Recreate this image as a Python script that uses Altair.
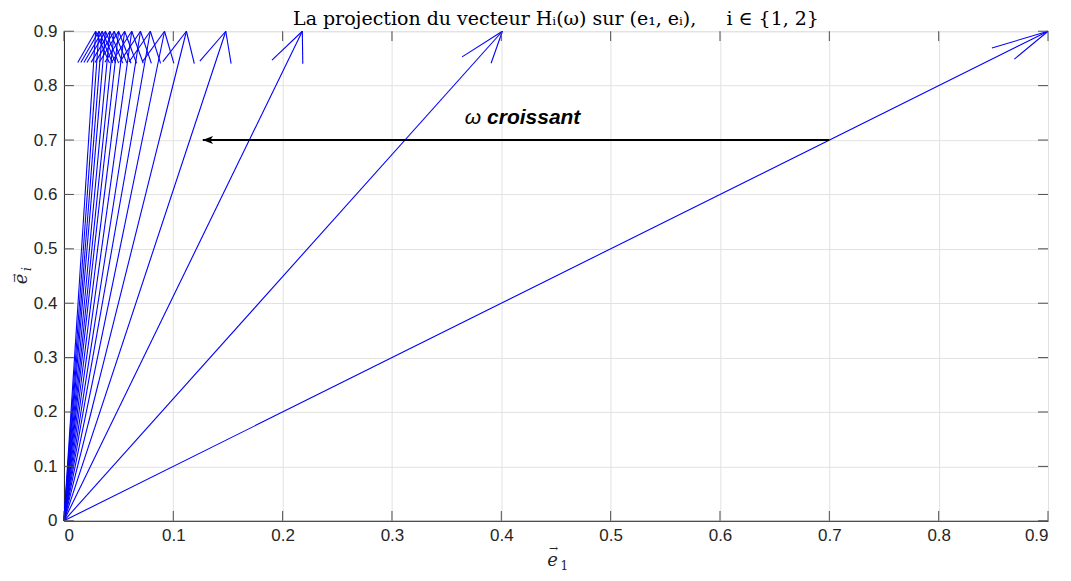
import altair as alt
import pandas as pd
import numpy as np

# --- data ---
tips_x = [0.9, 0.401, 0.218, 0.148, 0.112, 0.092, 0.079, 0.070, 0.062,
          0.0555, 0.050, 0.046, 0.042, 0.038, 0.035, 0.032, 0.029]
tip_y = 0.9
head_len = 0.058
head_half = 0.0145
tick_values = [0, 0.1, 0.2, 0.3, 0.4, 0.5, 0.6, 0.7, 0.8, 0.9]
arrow_start_x = 0.7
arrow_end_x = 0.127
arrow_y = 0.7
label_omega_x = 0.374
label_text_x = 0.387
label_y = 0.741
title_text = "La projection du vecteur Hᵢ(ω) sur (e₁, eᵢ),\u00a0\u00a0\u00a0\u00a0 i ∈ {1, 2}"

# --- build quiver segments (shaft + two barbs) ---
rows = []
for i, tx in enumerate(tips_x):
    rows.append(dict(k=i, x=0.0, y=0.0, x2=tx, y2=tip_y))
    n = np.hypot(tx, tip_y)
    ux, uy = tx / n, tip_y / n
    bx, by = tx - head_len * ux, tip_y - head_len * uy
    px, py = -uy, ux
    rows.append(dict(k=i, x=tx, y=tip_y, x2=bx + head_half * px, y2=by + head_half * py))
    rows.append(dict(k=i, x=tx, y=tip_y, x2=bx - head_half * px, y2=by - head_half * py))
seg = pd.DataFrame(rows)

W, H = 985, 490
xs = alt.Scale(domain=[0, 0.9], nice=False, zero=False)
ys = alt.Scale(domain=[0, 0.9], nice=False, zero=False)

AX = dict(values=tick_values, format="~g", labelFont="Liberation Sans", labelFontSize=17,
          labelColor="#262626", ticks=False, domainColor="#262626", domainWidth=1,
          gridColor="#e2e2e2", gridWidth=1, title=None)

quiver = alt.Chart(seg).mark_rule(color="#0000ff", strokeWidth=1.1).encode(
    x=alt.X("x:Q", scale=xs, axis=alt.Axis(labelPadding=7, **AX)),
    y=alt.Y("y:Q", scale=ys, axis=alt.Axis(labelPadding=7, **AX)),
    x2="x2:Q", y2="y2:Q",
)

tk = pd.DataFrame({"v": tick_values})
tlen_y = 0.018
tlen_x = 0.0091
tick_style = dict(color="#4d4d4d", strokeWidth=1)
tb = alt.Chart(tk).mark_rule(**tick_style).encode(x=alt.X("v:Q", scale=xs), y=alt.datum(0), y2=alt.datum(tlen_y))
tt = alt.Chart(tk).mark_rule(**tick_style).encode(x=alt.X("v:Q", scale=xs), y=alt.datum(0.9), y2=alt.datum(0.9 - tlen_y))
tl = alt.Chart(tk).mark_rule(**tick_style).encode(y=alt.Y("v:Q", scale=ys), x=alt.datum(0), x2=alt.datum(tlen_x))
tr = alt.Chart(tk).mark_rule(**tick_style).encode(y=alt.Y("v:Q", scale=ys), x=alt.datum(0.9), x2=alt.datum(0.9 - tlen_x))

arr = pd.DataFrame({"x": [arrow_start_x], "x2": [arrow_end_x], "y": [arrow_y]})
shaft = alt.Chart(arr).mark_rule(color="black", strokeWidth=2).encode(
    x=alt.X("x:Q", scale=xs), x2="x2:Q", y=alt.Y("y:Q", scale=ys))
head = alt.Chart(arr).mark_point(
    shape="M -1 0 L 1 -0.75 L 0.5 0 L 1 0.75 Z", filled=True, color="black", opacity=1,
    size=110, xOffset=5).encode(x=alt.X("x2:Q", scale=xs), y=alt.Y("y:Q", scale=ys))

lab = pd.DataFrame({"x": [label_omega_x], "x2": [label_text_x], "y": [label_y]})
omega = alt.Chart(lab).mark_text(text="ω", font="Liberation Sans", fontSize=21, fontStyle="italic",
                                 color="black", align="center", baseline="middle").encode(
    x=alt.X("x:Q", scale=xs), y=alt.Y("y:Q", scale=ys))
word = alt.Chart(lab).mark_text(text="croissant", font="Liberation Sans", fontSize=21, fontStyle="italic",
                                fontWeight="bold", color="black", align="left", baseline="middle").encode(
    x=alt.X("x2:Q", scale=xs), y=alt.Y("y:Q", scale=ys))

# --- title and axis titles as free text (vector arrows drawn above the e's) ---
def txt(s, x, y, size=18, style="normal", angle=0, align="center", baseline="alphabetic",
        font="DejaVu Serif", color="#262626"):
    return alt.Chart(pd.DataFrame({"t": [s]})).mark_text(
        font=font, fontSize=size, fontStyle=style, color=color,
        align=align, baseline=baseline, angle=angle, x=x, y=y
    ).encode(text="t:N")

title = txt(title_text, W / 2, -6, size=19, color="black")

xt_e = txt("e", 489, 535, size=18, style="italic")
xt_1 = txt("1", 497, 539, size=12, align="left")
xt_a = txt("→", 490, 518, size=11, baseline="middle")

yt_e = txt("e", -37, 248, size=18, style="italic", angle=270)
yt_i = txt("i", -33, 240, size=12, style="italic", angle=270, align="left")
yt_a = txt("→", -49, 247, size=11, angle=270, baseline="middle")

chart = alt.layer(quiver, tb, tt, tl, tr, shaft, head, omega, word,
                  title, xt_e, xt_1, xt_a, yt_e, yt_i, yt_a).properties(
    width=W, height=H,
    padding={"left": 56, "top": 23, "right": 15, "bottom": 52},
    autosize=alt.AutoSizeParams(type="none"),
).configure_view(stroke="#262626", strokeWidth=1).configure(background="white")

chart.save("out.html", embed_options={"renderer": "svg", "actions": False})
